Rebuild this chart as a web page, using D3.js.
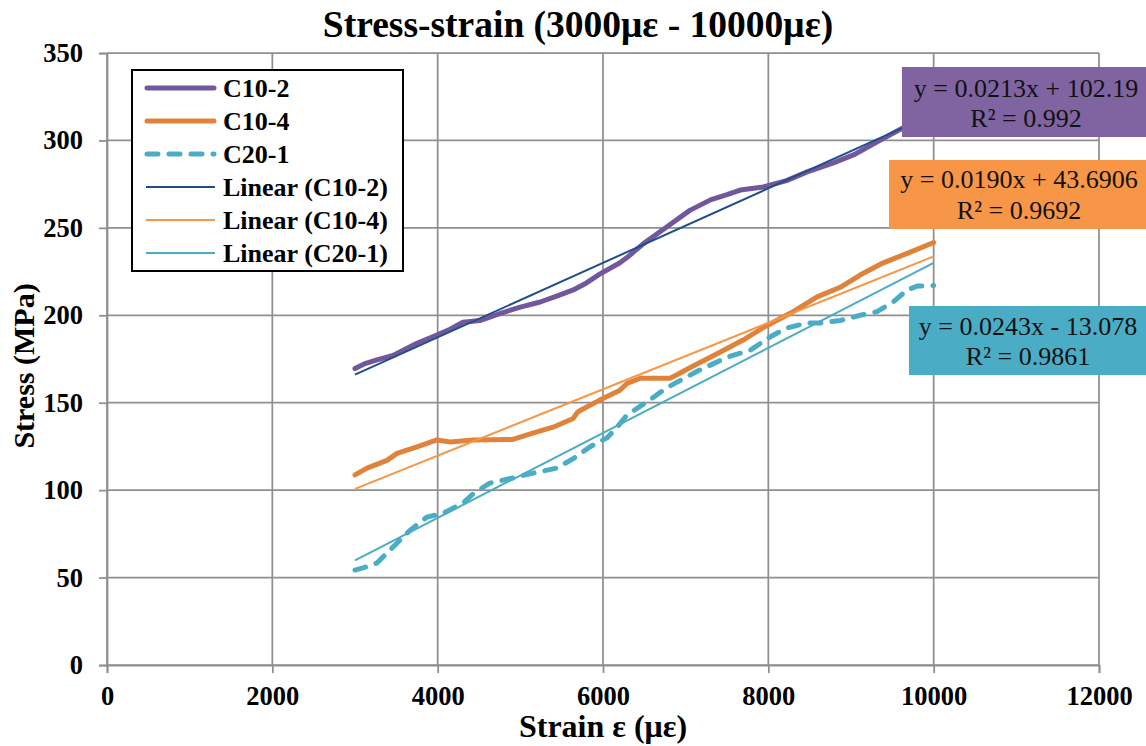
<!DOCTYPE html>
<html>
<head>
<meta charset="utf-8">
<script src="https://cdn.jsdelivr.net/npm/d3@7"></script>
<style>
  html, body { margin: 0; padding: 0; background: #fff; }
  svg { display: block; }
  svg text { font-family: "Liberation Serif", "Times New Roman", serif; }
</style>
</head>
<body>
<svg id="chart" width="1146" height="746"></svg>
<script>
// Measured stress–strain data (strain in με, stress in MPa)
const strainC102 = [3000,3130,3265,3460,3750,3990,4150,4306,4510,4750,5000,5240,5440,5640,5800,5960,6200,6290,6490,6770,7050,7300,7500,7660,7940,8220,8470,8780,9030,9350,9620,9800,10000];
const stressC102 = [169.5,172.5,174.5,177,184,188.7,192,196,197,201,204.7,207.6,211,214.5,218.5,223.5,229.9,233,241,250.5,260,266,269,271.6,273.4,277,282,287,291.7,300,307,311,316];

const strainC104 = [3000,3145,3387,3508,3750,3990,4150,4430,4910,5150,5395,5640,5690,5740,5960,6200,6290,6450,6810,6895,7050,7380,7700,7940,8260,8590,8870,9110,9390,9710,10000];
const stressC104 = [108.7,112.6,117,121,124.7,128.7,127.5,128.7,129,132.6,136,141,144.5,146,151.5,157,161,164,164,166,170,178,186,193,201,210.5,216,223,230,236,241.6];

const strainC201 = [3000,3130,3265,3460,3665,3870,4065,4306,4430,4630,4910,5150,5440,5640,5840,6050,6170,6290,6530,6770,7140,7500,7780,8020,8220,8470,8630,8870,9110,9310,9510,9680,9800,10000];
const stressC201 = [54.3,56,58.3,67.5,77,84.6,86.7,92.6,98,104,107,109.7,112.6,118,124.7,130,136,143,150.4,158.5,168,176,180,187.6,192.7,195.6,195.6,197,200,202,207.6,214.5,216.7,217];

// Linear fits (slope, intercept, R²) as reported for each specimen
const seriesNames = ["C10-2", "C10-4", "C20-1"];
const fitSlopes = [0.0213, 0.0190, 0.0243];
const fitIntercepts = [102.19, 43.6906, -13.078];
const fitLabels = ["y = 0.0213x + 102.19", "y = 0.0190x + 43.6906", "y = 0.0243x - 13.078"];
const fitR2Labels = ["R² = 0.992", "R² = 0.9692", "R² = 0.9861"];
const fitRange = [3000, 10000];

// Axis ticks
const xTicks = [0, 2000, 4000, 6000, 8000, 10000, 12000];
const yTicks = [0, 50, 100, 150, 200, 250, 300, 350];

const seriesColors = ["#71589c", "#e0823a", "#4bacc6"];
const trendColors = ["#1f4e8c", "#f79646", "#4bacc6"];
const boxColors = ["#8064a2", "#f79646", "#4bacc6"];

const serif = '"Liberation Serif", "Times New Roman", serif';
const svg = d3.select("#chart");
const x = d3.scaleLinear().domain([0, 12000]).range([107, 1099]);
const y = d3.scaleLinear().domain([0, 350]).range([665, 53]);
const gridColor = "#8f8f8f";

// Gridlines
const grid = svg.append("g");
grid.selectAll("line.v").data(xTicks).join("line")
  .attr("x1", d => x(d)).attr("x2", d => x(d))
  .attr("y1", y(350)).attr("y2", y(0))
  .attr("stroke", gridColor).attr("stroke-width", 1.75);
grid.selectAll("line.h").data(yTicks).join("line")
  .attr("x1", x(0)).attr("x2", x(12000))
  .attr("y1", d => y(d)).attr("y2", d => y(d))
  .attr("stroke", gridColor).attr("stroke-width", 1.75);

// Axes
const xAxis = svg.append("g").attr("transform", `translate(0,${y(0)})`)
  .call(d3.axisBottom(x).tickValues(xTicks).tickSize(8).tickPadding(13).tickFormat(d3.format("d")));
const yAxis = svg.append("g").attr("transform", `translate(${x(0)},0)`)
  .call(d3.axisLeft(y).tickValues(yTicks).tickSize(8).tickPadding(16).tickFormat(d3.format("d")));
[xAxis, yAxis].forEach(a => {
  a.attr("font-family", null).attr("font-size", null);
  a.select(".domain").attr("stroke", gridColor).attr("stroke-width", 1.75);
  a.selectAll(".tick line").attr("stroke", gridColor).attr("stroke-width", 1.75);
  a.selectAll(".tick text")
    .style("font-family", serif)
    .style("font-size", "26.5px").style("font-weight", "bold").attr("fill", "#000");
});

// Measured curves
const line = d3.line().x(d => x(d[0])).y(d => y(d[1])).curve(d3.curveLinear);
const curves = [
  d3.zip(strainC102, stressC102),
  d3.zip(strainC104, stressC104),
  d3.zip(strainC201, stressC201)
];
curves.forEach((pts, i) => {
  svg.append("path").datum(pts)
    .attr("d", line)
    .attr("fill", "none")
    .attr("stroke", seriesColors[i])
    .attr("stroke-width", 5)
    .attr("stroke-linejoin", "round")
    .attr("stroke-linecap", "round")
    .attr("stroke-dasharray", i === 2 ? "11,11" : null);
});

// Linear trendlines
fitSlopes.forEach((m, i) => {
  const pts = fitRange.map(v => [v, m * v + fitIntercepts[i]]);
  svg.append("path").datum(pts)
    .attr("d", line)
    .attr("fill", "none")
    .attr("stroke", trendColors[i])
    .attr("stroke-width", 2);
});

// Title and axis titles
svg.append("text").attr("x", 578).attr("y", 37)
  .attr("text-anchor", "middle").style("font-size", "37.5px").attr("font-weight", "bold")
  .text("Stress-strain (3000με - 10000με)");
svg.append("text").attr("x", 603).attr("y", 737)
  .attr("text-anchor", "middle").style("font-size", "32px").attr("font-weight", "bold")
  .text("Strain ε (με)");
svg.append("text").attr("transform", "translate(34,366) rotate(-90)")
  .attr("text-anchor", "middle").style("font-size", "30px").attr("font-weight", "bold")
  .text("Stress (MPa)");

// Legend
const legend = svg.append("g");
legend.append("rect").attr("x", 132).attr("y", 70).attr("width", 271).attr("height", 201)
  .attr("fill", "#fff").attr("stroke", "#000").attr("stroke-width", 2);
const legendItems = [
  { label: seriesNames[0], color: seriesColors[0], w: 5, dash: null },
  { label: seriesNames[1], color: seriesColors[1], w: 5, dash: null },
  { label: seriesNames[2], color: seriesColors[2], w: 5, dash: "11,11" },
  { label: `Linear (${seriesNames[0]})`, color: trendColors[0], w: 2, dash: null },
  { label: `Linear (${seriesNames[1]})`, color: trendColors[1], w: 2, dash: null },
  { label: `Linear (${seriesNames[2]})`, color: trendColors[2], w: 2, dash: null }
];
legendItems.forEach((it, i) => {
  const ry = 88 + i * 33;
  legend.append("line")
    .attr("x1", it.w > 3 ? 147 : 146).attr("x2", it.w > 3 ? 214 : 215)
    .attr("y1", ry).attr("y2", ry)
    .attr("stroke", it.color).attr("stroke-width", it.w)
    .attr("stroke-linecap", it.w > 3 ? "round" : "butt")
    .attr("stroke-dasharray", it.dash);
  legend.append("text").attr("x", 223).attr("y", ry + 9)
    .style("font-size", "26px").attr("font-weight", "bold").text(it.label);
});

// Trendline equation boxes
const boxes = [
  { x: 902, y: 67, w: 244, h: 70, cx: 1026, b1: 97, b2: 127 },
  { x: 889, y: 160, w: 257, h: 69, cx: 1019, b1: 188, b2: 219 },
  { x: 909, y: 306, w: 237, h: 69, cx: 1028, b1: 335, b2: 365 }
];
boxes.forEach((b, i) => {
  const g = svg.append("g");
  g.append("rect").attr("x", b.x).attr("y", b.y).attr("width", b.w).attr("height", b.h)
    .attr("fill", boxColors[i]);
  g.append("text").attr("x", b.cx).attr("y", b.b1).attr("text-anchor", "middle")
    .style("font-size", "26px").attr("fill", "#111").text(fitLabels[i]);
  g.append("text").attr("x", b.cx).attr("y", b.b2).attr("text-anchor", "middle")
    .style("font-size", "26px").attr("fill", "#111").text(fitR2Labels[i]);
});
</script>
</body>
</html>
